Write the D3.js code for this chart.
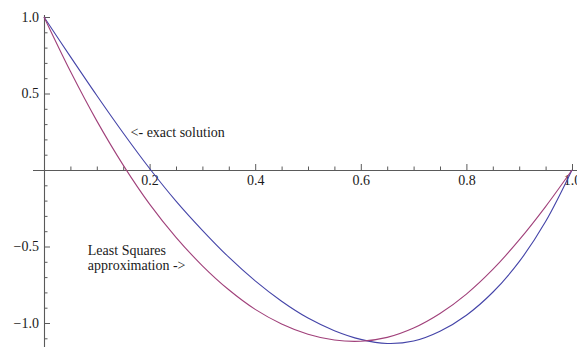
<!DOCTYPE html>
<html>
<head>
<meta charset="utf-8">
<script src="https://cdn.jsdelivr.net/npm/d3@7"></script>
<style>
  html, body { margin: 0; padding: 0; background: #fff; }
  svg { display: block; }
  text { font-family: "Liberation Serif", "Times New Roman", serif; }
</style>
</head>
<body>
<svg id="chart" width="577" height="347"></svg>
<script>
// Sample abscissae shared by both curves
const xs = [0, 0.05, 0.10, 0.15, 0.20, 0.25, 0.30, 0.35, 0.40, 0.45, 0.50,
            0.55, 0.60, 0.65, 0.70, 0.75, 0.80, 0.85, 0.90, 0.95, 1.00];

// Exact solution
const exactValues = [1.0, 0.741, 0.487, 0.242, 0.010, -0.203, -0.394, -0.570, -0.725, -0.858, -0.968,
                     -1.050, -1.107, -1.134, -1.118, -1.054, -0.949, -0.799, -0.599, -0.337, 0.0];

// Least squares approximation
const lsqValues = [1.0, 0.645, 0.321, 0.032, -0.223, -0.440, -0.626, -0.783, -0.911, -1.006, -1.073,
                   -1.111, -1.119, -1.094, -1.033, -0.938, -0.811, -0.650, -0.457, -0.239, 0.0];

// Axis ticks
const xMajorTicks = [0.2, 0.4, 0.6, 0.8, 1.0];
const xMinorTicks = [0.05, 0.1, 0.15, 0.25, 0.3, 0.35, 0.45, 0.5, 0.55, 0.65, 0.7, 0.75, 0.85, 0.9, 0.95];
const yMajorTicks = [-1.0, -0.5, 0.5, 1.0];
const yMinorTicks = [-1.1, -0.9, -0.8, -0.7, -0.6, -0.4, -0.3, -0.2, -0.1,
                     0.1, 0.2, 0.3, 0.4, 0.6, 0.7, 0.8, 0.9];

// Text annotations
const notes = [
  { text: "<- exact solution", x: 0.164, y: 0.215 },
  { text: "Least Squares", x: 0.083, y: -0.555 },
  { text: "approximation ->", x: 0.083, y: -0.655 }
];

const svg = d3.select("#chart");
const axisColor = "#5a5a5a";
const labelColor = "#1a1a1a";

const x = d3.scaleLinear().domain([0, 1]).range([44, 572]);
const y = d3.scaleLinear().domain([-1.15, 1]).range([17 + 2.15 * 153, 17]);

const fmt = d3.format(".1f");

// Axis lines
svg.append("line")
  .attr("x1", 33).attr("x2", 577)
  .attr("y1", y(0) + 0.5).attr("y2", y(0) + 0.5)
  .attr("stroke", axisColor).attr("stroke-width", 1.1);
svg.append("line")
  .attr("x1", x(0) + 0.5).attr("x2", x(0) + 0.5)
  .attr("y1", 15).attr("y2", 347)
  .attr("stroke", axisColor).attr("stroke-width", 1.1);

function styleAxis(g) {
  g.select(".domain").remove();
  g.selectAll(".tick line").attr("stroke", axisColor);
  g.selectAll(".tick text")
    .attr("fill", labelColor)
    .style("font-size", "14px")
    .style("font-family", "'Liberation Serif', 'Times New Roman', serif");
}

// x axis: minor and major ticks pointing up
svg.append("g")
  .attr("transform", `translate(0,${y(0)})`)
  .call(d3.axisBottom(x).tickValues(xMinorTicks).tickSizeInner(-3.5).tickSizeOuter(0).tickFormat(""))
  .call(styleAxis);
svg.append("g")
  .attr("transform", `translate(0,${y(0)})`)
  .call(d3.axisBottom(x).tickValues(xMajorTicks).tickSizeInner(-6).tickSizeOuter(0).tickPadding(5).tickFormat(fmt))
  .call(styleAxis);

// y axis: minor and major ticks pointing right
svg.append("g")
  .attr("transform", `translate(${x(0)},0)`)
  .call(d3.axisLeft(y).tickValues(yMinorTicks).tickSizeInner(-3.5).tickSizeOuter(0).tickFormat(""))
  .call(styleAxis);
svg.append("g")
  .attr("transform", `translate(${x(0)},0)`)
  .call(d3.axisLeft(y).tickValues(yMajorTicks).tickSizeInner(-6).tickSizeOuter(0).tickPadding(5).tickFormat(fmt))
  .call(styleAxis);

// Curves
const line = d3.line()
  .x((d, i) => x(xs[i]))
  .y(d => y(d))
  .curve(d3.curveCatmullRom.alpha(0.5));

svg.append("path")
  .datum(exactValues)
  .attr("d", line)
  .attr("fill", "none")
  .attr("stroke", "#4444a8")
  .attr("stroke-width", 1.1);

svg.append("path")
  .datum(lsqValues)
  .attr("d", line)
  .attr("fill", "none")
  .attr("stroke", "#a0407a")
  .attr("stroke-width", 1.1);

// Annotations
svg.selectAll("text.note")
  .data(notes)
  .join("text")
  .attr("class", "note")
  .attr("x", d => x(d.x))
  .attr("y", d => y(d.y))
  .attr("fill", labelColor)
  .style("font-size", "14px")
  .text(d => d.text);
</script>
</body>
</html>
